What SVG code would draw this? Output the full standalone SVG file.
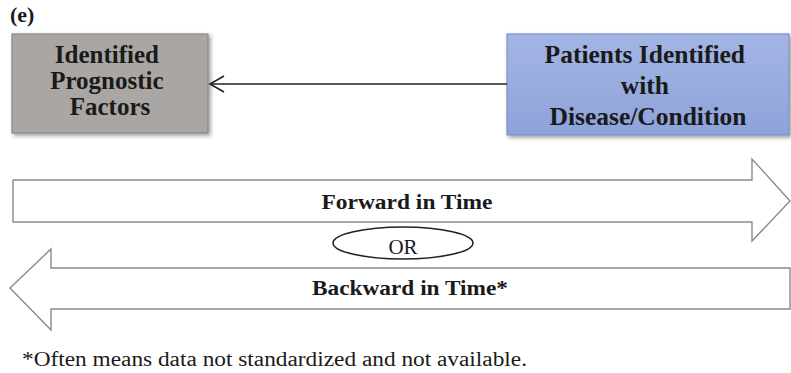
<svg xmlns="http://www.w3.org/2000/svg" width="791" height="373" viewBox="0 0 791 373">
  <style>
    .lbl { font-family: "Liberation Serif", "Times New Roman", serif; font-weight: bold; fill: #1a1a1a; }
    .reg { font-family: "Liberation Serif", "Times New Roman", serif; fill: #1a1a1a; }
    .band { fill: #ffffff; stroke: #8a8a8a; stroke-width: 1.4; stroke-linejoin: miter; }
  </style>
  <defs>
    <linearGradient id="blueFill" x1="0" y1="0" x2="0" y2="1">
      <stop offset="0" stop-color="#a3b5e4"/>
      <stop offset="1" stop-color="#8ea3da"/>
    </linearGradient>
    <filter id="shadow" x="-5%" y="-5%" width="115%" height="120%">
      <feGaussianBlur in="SourceAlpha" stdDeviation="2"/>
      <feOffset dx="2" dy="2" result="b"/>
      <feComponentTransfer><feFuncA type="linear" slope="0.4"/></feComponentTransfer>
      <feMerge><feMergeNode/><feMergeNode in="SourceGraphic"/></feMerge>
    </filter>
    <!-- open chevron head; +x runs along the line towards its end -->
    <marker id="openHead" markerWidth="18" markerHeight="18" refX="15" refY="9" orient="auto" markerUnits="userSpaceOnUse">
      <path d="M1,1 L15,9 L1,17" fill="none" stroke="#222" stroke-width="1.6"/>
    </marker>
  </defs>

  <text class="lbl" x="10" y="22" font-size="22">(e)</text>

  <g id="prognostic-factors">
    <rect x="12" y="34" width="196" height="99" fill="#a9a6a3" stroke="#8a8784" stroke-width="1.2" filter="url(#shadow)"/>
    <text class="lbl" font-size="25" text-anchor="middle">
      <tspan x="110" y="63">Identified</tspan>
      <tspan x="110" y="89">Prognostic</tspan>
      <tspan x="110" y="115">Factors</tspan>
    </text>
  </g>

  <g id="patients">
    <rect x="507" y="34" width="282" height="101" fill="url(#blueFill)" stroke="#7d91c6" stroke-width="1.2" filter="url(#shadow)"/>
    <text class="lbl" font-size="25.5" text-anchor="middle">
      <tspan x="648" y="63">Patients Identified</tspan>
      <tspan x="648" y="94">with</tspan>
      <tspan x="648" y="125">Disease/Condition</tspan>
    </text>
  </g>

  <g id="connectors">
    <line x1="507" y1="84" x2="210" y2="84" stroke="#222" stroke-width="1.6" marker-end="url(#openHead)"/>
  </g>

  <g id="forward">
    <path class="band" d="M13,180 L752,180 L752,159 L790,201 L752,241 L752,222 L13,222 Z"/>
    <text class="lbl" x="407" y="209" font-size="21" text-anchor="middle" textLength="171" lengthAdjust="spacingAndGlyphs">Forward in Time</text>
  </g>

  <g id="or">
    <ellipse cx="403" cy="243" rx="70" ry="16" fill="#ffffff" stroke="#222" stroke-width="1.6"/>
    <text class="reg" x="403" y="254" font-size="21" text-anchor="middle">OR</text>
  </g>

  <g id="backward">
    <path class="band" d="M790,268 L51,268 L51,249 L10,288 L51,330 L51,309 L790,309 Z"/>
    <text class="lbl" x="410" y="295" font-size="21" text-anchor="middle" textLength="196" lengthAdjust="spacingAndGlyphs">Backward in Time*</text>
  </g>

  <text class="reg" x="22" y="366" font-size="20" textLength="505" lengthAdjust="spacingAndGlyphs">*Often means data not standardized and not available.</text>
</svg>
